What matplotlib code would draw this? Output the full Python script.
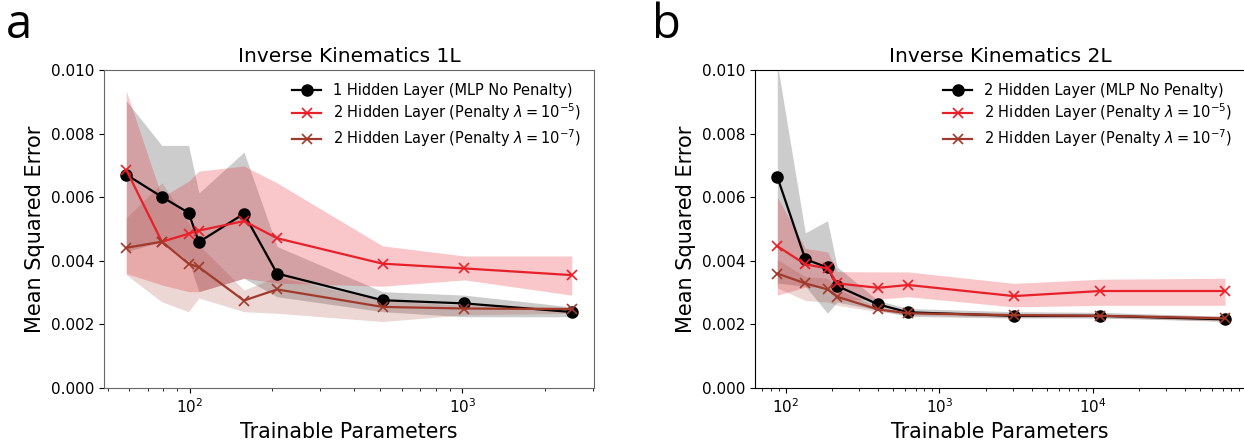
import matplotlib
matplotlib.use("Agg")
import matplotlib.pyplot as plt
import numpy as np

# --- Inverse Kinematics 1L ---
params_1l = [58.5, 79, 99, 108, 158, 209, 509, 1017, 2515]
mlp_1l = [6.71, 6.01, 5.51, 4.59, 5.48, 3.60, 2.76, 2.66, 2.39]
mlp_1l_hi = [9.03, 7.63, 7.63, 6.13, 7.42, 4.45, 3.03, 2.92, 2.55]
mlp_1l_lo = [4.29, 4.60, 4.00, 3.03, 3.45, 2.87, 2.40, 2.24, 2.24]
pen5_1l = [6.86, 4.60, 4.85, 4.95, 5.25, 4.71, 3.91, 3.76, 3.55]
pen5_1l_hi = [9.34, 6.00, 6.50, 6.82, 6.98, 6.45, 4.47, 4.15, 4.15]
pen5_1l_lo = [3.60, 3.24, 3.03, 3.03, 3.45, 3.30, 3.20, 3.40, 2.92]
pen7_1l = [4.41, 4.60, 3.91, 3.80, 2.75, 3.10, 2.55, 2.50, 2.48]
pen7_1l_hi = [5.35, 6.45, 5.20, 4.50, 3.08, 3.50, 2.75, 2.60, 2.55]
pen7_1l_lo = [3.56, 2.71, 2.40, 2.83, 2.40, 2.35, 2.09, 2.30, 2.35]

# --- Inverse Kinematics 2L ---
params_2l = [88, 134, 187, 216, 399, 627, 3063, 11160, 72600]
mlp_2l = [6.64, 4.05, 3.79, 3.21, 2.63, 2.38, 2.27, 2.27, 2.16]
mlp_2l_hi = [10.2, 4.88, 5.26, 3.81, 2.75, 2.50, 2.40, 2.38, 2.25]
mlp_2l_lo = [3.30, 3.20, 2.35, 2.70, 2.45, 2.25, 2.20, 2.20, 2.10]
pen5_2l = [4.46, 3.89, 3.76, 3.29, 3.15, 3.24, 2.89, 3.05, 3.05]
pen5_2l_hi = [6.01, 4.39, 4.28, 3.66, 3.65, 3.65, 3.29, 3.42, 3.45]
pen5_2l_lo = [2.92, 3.17, 3.20, 2.76, 2.79, 2.87, 2.55, 2.60, 2.60]
pen7_2l = [3.60, 3.29, 3.10, 2.87, 2.47, 2.35, 2.29, 2.27, 2.19]
pen7_2l_hi = [4.04, 3.50, 3.45, 3.10, 2.55, 2.42, 2.35, 2.33, 2.27]
pen7_2l_lo = [3.15, 2.75, 2.70, 2.60, 2.40, 2.30, 2.22, 2.22, 2.10]

RED = '#e8202a'
BROWN = '#a23a2c'


def s(v):
    return np.array(v) * 1e-3


def draw_panel(ax, x, series, title, mlp_label):
    (m, mh, ml), (p5, p5h, p5l), (p7, p7h, p7l) = series
    ax.fill_between(x, s(ml), s(mh), color='black', alpha=0.2, linewidth=0)
    ax.fill_between(x, s(p5l), s(p5h), color=RED, alpha=0.25, linewidth=0)
    ax.fill_between(x, s(p7l), s(p7h), color=BROWN, alpha=0.2, linewidth=0)
    ax.plot(x, s(m), color='black', marker='o', markersize=8, linewidth=1.6, label=mlp_label)
    ax.plot(x, s(p5), color=RED, marker='x', markersize=7, markeredgewidth=1.2,
            linewidth=1.6, label=r'2 Hidden Layer (Penalty $\lambda=10^{-5}$)')
    ax.plot(x, s(p7), color=BROWN, marker='x', markersize=7, markeredgewidth=1.2,
            linewidth=1.6, label=r'2 Hidden Layer (Penalty $\lambda=10^{-7}$)')
    ax.set_xscale('log')
    ax.set_ylim(0, 0.010)
    ax.set_yticks([0.000, 0.002, 0.004, 0.006, 0.008, 0.010])
    ax.set_yticklabels(['0.000', '0.002', '0.004', '0.006', '0.008', '0.010'])
    ax.tick_params(labelsize=11)
    ax.set_title(title, fontsize=14.5)
    ax.set_xlabel('Trainable Parameters', fontsize=14.8)
    ax.set_ylabel('Mean Squared Error', fontsize=15)
    ax.legend(loc='upper right', frameon=False, fontsize=10.5, labelspacing=0.25)


fig = plt.figure(figsize=(12.44, 4.40), dpi=100)
ax1 = fig.add_axes([104 / 1244, 52 / 440, 490 / 1244, 318 / 440])
ax2 = fig.add_axes([755 / 1244, 52 / 440, 490 / 1244, 318 / 440])

draw_panel(ax1, params_1l,
           [(mlp_1l, mlp_1l_hi, mlp_1l_lo), (pen5_1l, pen5_1l_hi, pen5_1l_lo),
            (pen7_1l, pen7_1l_hi, pen7_1l_lo)],
           'Inverse Kinematics 1L', '1 Hidden Layer (MLP No Penalty)')
draw_panel(ax2, params_2l,
           [(mlp_2l, mlp_2l_hi, mlp_2l_lo), (pen5_2l, pen5_2l_hi, pen5_2l_lo),
            (pen7_2l, pen7_2l_hi, pen7_2l_lo)],
           'Inverse Kinematics 2L', '2 Hidden Layer (MLP No Penalty)')
ax2.set_xlim(63, 9.8e4)

for sp in ax1.spines.values():
    sp.set_color('#666666')

fig.text(6 / 1244, 1 - 38 / 440, 'a', fontsize=34, family='Open Sans')
fig.text(652 / 1244, 1 - 38 / 440, 'b', fontsize=34, family='Open Sans')

fig.savefig('out.png', dpi=100)
